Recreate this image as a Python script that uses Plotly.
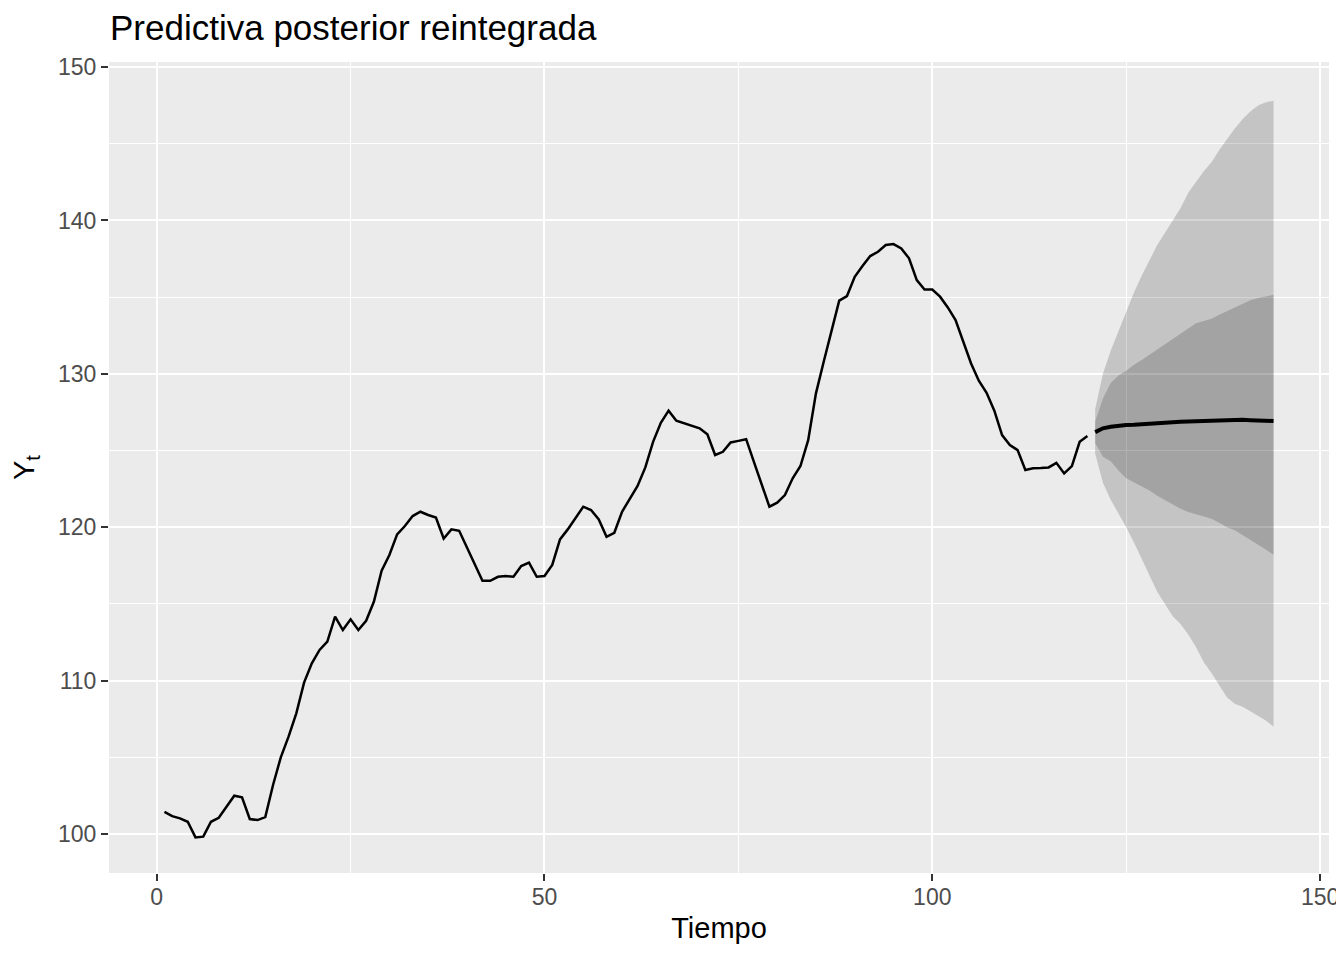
import plotly.graph_objects as go

# Observed series (t = 1..120)
t_obs = list(range(1, 121))
y_obs = [
    101.45, 101.17, 101.02, 100.80, 99.78, 99.83, 100.80, 101.06, 101.78, 102.50,
    102.39, 100.98, 100.91, 101.10, 103.20, 105.00, 106.35, 107.87, 109.87, 111.13,
    112.00, 112.54, 114.17, 113.30, 114.00, 113.30, 113.90, 115.14, 117.17, 118.19,
    119.54, 120.08, 120.73, 121.01, 120.80, 120.63, 119.27, 119.86, 119.77, 118.69,
    117.56, 116.51, 116.51, 116.77, 116.82, 116.77, 117.47, 117.69, 116.77, 116.82,
    117.54, 119.21, 119.86, 120.58, 121.34, 121.12, 120.51, 119.38, 119.64, 121.01,
    121.84, 122.69, 123.90, 125.57, 126.81, 127.60, 126.94, 126.77, 126.60, 126.45,
    126.06, 124.71, 124.92, 125.53, 125.63, 125.74, 124.26, 122.84, 121.34, 121.60,
    122.10, 123.19, 123.99, 125.68, 128.73, 130.79, 132.85, 134.77, 135.07, 136.33,
    137.03, 137.68, 137.96, 138.40, 138.46, 138.18, 137.53, 136.11, 135.50, 135.50,
    135.03, 134.33, 133.51, 132.09, 130.68, 129.55, 128.77, 127.60, 126.01, 125.36,
    125.03, 123.73, 123.84, 123.86, 123.90, 124.20, 123.51, 123.99, 125.57, 125.95,
]

# Forecast (t = 121..144)
t_fc = list(range(121, 145))
fc_median = [
    126.20, 126.45, 126.55, 126.62, 126.66, 126.68, 126.70, 126.72, 126.76, 126.80,
    126.84, 126.88, 126.90, 126.92, 126.93, 126.95, 126.97, 126.99, 127.00, 127.00,
    126.98, 126.96, 126.95, 126.93,
]
fc_outer_up = [
    127.7, 130.0, 131.5, 132.8, 134.0, 135.3, 136.4, 137.4, 138.4, 139.2,
    140.0, 140.8, 141.8, 142.5, 143.2, 143.8, 144.6, 145.3, 146.0, 146.6,
    147.1, 147.5, 147.7, 147.8,
]
fc_inner_up = [
    126.9, 128.4, 129.4, 129.9, 130.2, 130.6, 130.9, 131.25, 131.55, 131.9,
    132.3, 132.6, 132.95, 133.3, 133.45, 133.6, 133.85, 134.1, 134.35, 134.55,
    134.8, 134.95, 135.05, 135.15,
]
fc_inner_lo = [
    125.5, 124.6, 124.3, 123.7, 123.2, 122.95, 122.7, 122.4, 122.05, 121.75,
    121.45, 121.2, 121.0, 120.85, 120.7, 120.55, 120.3, 120.0, 119.8, 119.5,
    119.2, 118.9, 118.55, 118.2,
]
fc_outer_lo = [
    124.8, 122.9, 121.8, 120.9, 120.0, 119.0, 117.9, 116.9, 115.8, 115.0,
    114.2, 113.7, 113.0, 112.2, 111.2, 110.5, 109.7, 108.9, 108.5, 108.3,
    108.0, 107.7, 107.4, 107.0,
]

x_ticks = [0, 50, 100, 150]
y_ticks = [100, 110, 120, 130, 140, 150]

band_fill = "rgba(0,0,0,0.165)"
FONT = "Liberation Sans, Arial, sans-serif"

fig = go.Figure()
# outer band
fig.add_trace(go.Scatter(x=t_fc, y=fc_outer_lo, mode="lines", line=dict(width=0),
                         showlegend=False, hoverinfo="skip"))
fig.add_trace(go.Scatter(x=t_fc, y=fc_outer_up, mode="lines", line=dict(width=0),
                         fill="tonexty", fillcolor=band_fill, showlegend=False, hoverinfo="skip"))
# inner band
fig.add_trace(go.Scatter(x=t_fc, y=fc_inner_lo, mode="lines", line=dict(width=0),
                         showlegend=False, hoverinfo="skip"))
fig.add_trace(go.Scatter(x=t_fc, y=fc_inner_up, mode="lines", line=dict(width=0),
                         fill="tonexty", fillcolor=band_fill, showlegend=False, hoverinfo="skip"))
# observed
fig.add_trace(go.Scatter(x=t_obs, y=y_obs, mode="lines", line=dict(color="black", width=2.5),
                         showlegend=False))
# median forecast
fig.add_trace(go.Scatter(x=t_fc, y=fc_median, mode="lines", line=dict(color="black", width=4),
                         showlegend=False))

axis_common = dict(
    showgrid=True, gridcolor="white", gridwidth=2.2,
    zeroline=False, showline=False,
    ticks="outside", ticklen=7, tickwidth=2.1, tickcolor="#333333",
    tickfont=dict(family=FONT, size=23, color="#4d4d4d"),
    ticklabeloverflow="allow",
    automargin=False,
)

# The page body adds an 8px offset; the figure is sized/margined to compensate.
W, H = 1336, 944
fig.update_layout(
    width=W, height=H,
    paper_bgcolor="white", plot_bgcolor="#ebebeb",
    margin=dict(l=101, r=15, t=54, b=79),
    title=dict(text="Predictiva posterior reintegrada", x=102/W, xref="container",
               xanchor="left", y=1-20/H, yref="container", yanchor="middle",
               font=dict(family=FONT, size=35, color="black")),
    xaxis=dict(range=[-6.15, 151.15], tickvals=x_ticks, ticktext=[str(v) for v in x_ticks],
               ticklabelstandoff=-4,
               minor=dict(tickvals=[25, 75, 125], showgrid=True, gridcolor="white",
                          gridwidth=1.1, ticks=""),
               title=dict(text="Tiempo", standoff=9,
                          font=dict(family=FONT, size=29, color="black")),
               **axis_common),
    yaxis=dict(range=[97.46, 150.33], tickvals=y_ticks, ticktext=[str(v) for v in y_ticks],
               minor=dict(tickvals=[105, 115, 125, 135, 145], showgrid=True, gridcolor="white",
                          gridwidth=1.1, ticks=""),
               title=dict(text="Y<sub>t</sub>", standoff=15,
                          font=dict(family=FONT, size=29, color="black")),
               **axis_common),
    font=dict(family=FONT),
)

fig.write_html("out.html")
